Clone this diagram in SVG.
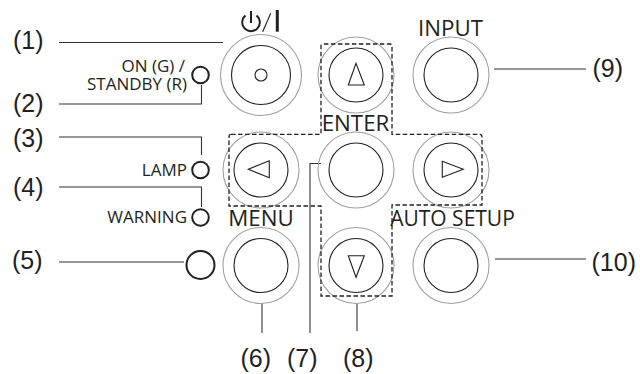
<svg xmlns="http://www.w3.org/2000/svg" width="640" height="374" viewBox="0 0 640 374">
<style>
.o{fill:none;stroke:#a0a0a0;stroke-width:1.1}
.i{fill:none;stroke:#231f20;stroke-width:1.1}
.g{fill:none;stroke:#231f20;stroke-width:1.1;stroke-linejoin:miter}
.p{fill:none;stroke:#231f20;stroke-width:2}
.led{fill:#fff;stroke:#231f20;stroke-width:2}
.c{fill:none;stroke:#333;stroke-width:1.1}
.n{font-family:"Liberation Sans",Arial,sans-serif;font-size:25px;fill:#231f20}
.k{font-family:"Open Sans","Noto Sans",sans-serif;font-size:22.300px;fill:#231f20;text-anchor:middle}
.s{font-family:"Open Sans","Noto Sans",sans-serif;font-size:17px;fill:#231f20;text-anchor:end}
.d{fill:none;stroke:#231f20;stroke-width:1.3;stroke-dasharray:4.5 2.5}
</style>
<g id="connectors">
<path class="c" d="M59 42.500H223"/>
<path class="c" d="M59 104H201.500V85"/>
<path class="c" d="M59 137H201.500V155"/>
<path class="c" d="M59 187H201.500V207"/>
<path class="c" d="M59 262H184"/>
<path class="c" d="M262 303V333"/>
<path class="c" d="M310 333V163.500H321"/>
<path class="c" d="M357 304V331"/>
<path class="c" d="M494 69H586"/>
<path class="c" d="M495 259H586"/>
</g>
<g id="btn-power"><circle class="o" cx="261" cy="75" r="40.500"/><circle class="i" cx="261" cy="75" r="29.500"/><circle class="i" cx="261" cy="75" r="6"/>
<path class="p" d="M245.500 15.500A8.800 8.800 0 1 0 256.500 15.500M251 11V23"/><path class="g" d="M262.700 31.700L270.700 13.300"/><path d="M277.300 10V31.700" stroke="#231f20" stroke-width="3" fill="none"/></g>
<g id="btn-up"><circle class="o" cx="356" cy="75" r="38"/><circle class="i" cx="356" cy="75" r="27"/><path class="g" d="M356 63.300L348.300 85H364.300Z"/></g>
<g id="btn-input"><circle class="o" cx="451" cy="75" r="38"/><circle class="i" cx="451" cy="75" r="27"/><text class="k" x="450.500" y="36">INPUT</text></g>
<g id="btn-left"><circle class="o" cx="261" cy="170" r="38"/><circle class="i" cx="261" cy="170" r="27"/><path class="g" d="M248.300 169.300L269.300 160.700V177.700Z"/></g>
<g id="btn-enter"><circle class="o" cx="356" cy="170" r="38"/><circle class="i" cx="356" cy="170" r="27"/><text class="k" x="355.500" y="130.700">ENTER</text></g>
<g id="btn-right"><circle class="o" cx="451" cy="170" r="38"/><circle class="i" cx="451" cy="170" r="27"/><path class="g" d="M463.300 169.300L442.300 161.300V177.300Z"/></g>
<g id="btn-menu"><circle class="o" cx="261" cy="265.500" r="38"/><circle class="i" cx="261" cy="265.500" r="27"/><text class="k" x="261" y="225.700">MENU</text></g>
<g id="btn-down"><circle class="o" cx="356" cy="265.500" r="38"/><circle class="i" cx="356" cy="265.500" r="27"/><path class="g" d="M356 277.300L348.300 255.700H364.300Z"/></g>
<g id="btn-auto"><circle class="o" cx="451" cy="265.500" r="38"/><circle class="i" cx="451" cy="265.500" r="27"/><text class="k" style="font-size:21px" x="452.500" y="225.700">AUTO SETUP</text></g>
<g id="led-power"><circle class="led" cx="200.500" cy="75" r="8.300"/><text class="s"><tspan x="185" y="71.700">ON (G) /</tspan><tspan x="187" y="90">STANDBY (R)</tspan></text></g>
<g id="led-lamp"><circle class="led" cx="200.500" cy="170" r="8.300"/><text class="s" x="187" y="175.700">LAMP</text></g>
<g id="led-warning"><circle class="led" cx="200.500" cy="217.500" r="8.300"/><text class="s" x="187" y="223">WARNING</text></g>
<g id="sensor"><circle class="led" cx="200.500" cy="265" r="14"/></g>
<g id="dashed"><path class="d" d="M231 134.300H321V46Q321 44 323 44H390Q392 44 392 46V134.300H480Q482 134.300 482 137V205H392V296H321V206H229V137Q229 134.300 231 134.300Z"/></g>
<g id="labels">
<text class="n" x="13" y="49">(1)</text>
<text class="n" x="13" y="111.700">(2)</text>
<text class="n" x="13" y="146.700">(3)</text>
<text class="n" x="13" y="196">(4)</text>
<text class="n" x="12" y="269">(5)</text>
<text class="n" x="240.500" y="367">(6)</text>
<text class="n" x="287" y="367">(7)</text>
<text class="n" x="343" y="367">(8)</text>
<text class="n" x="592.500" y="76.700">(9)</text>
<text class="n" x="591.500" y="271">(10)</text>
</g>
</svg>
